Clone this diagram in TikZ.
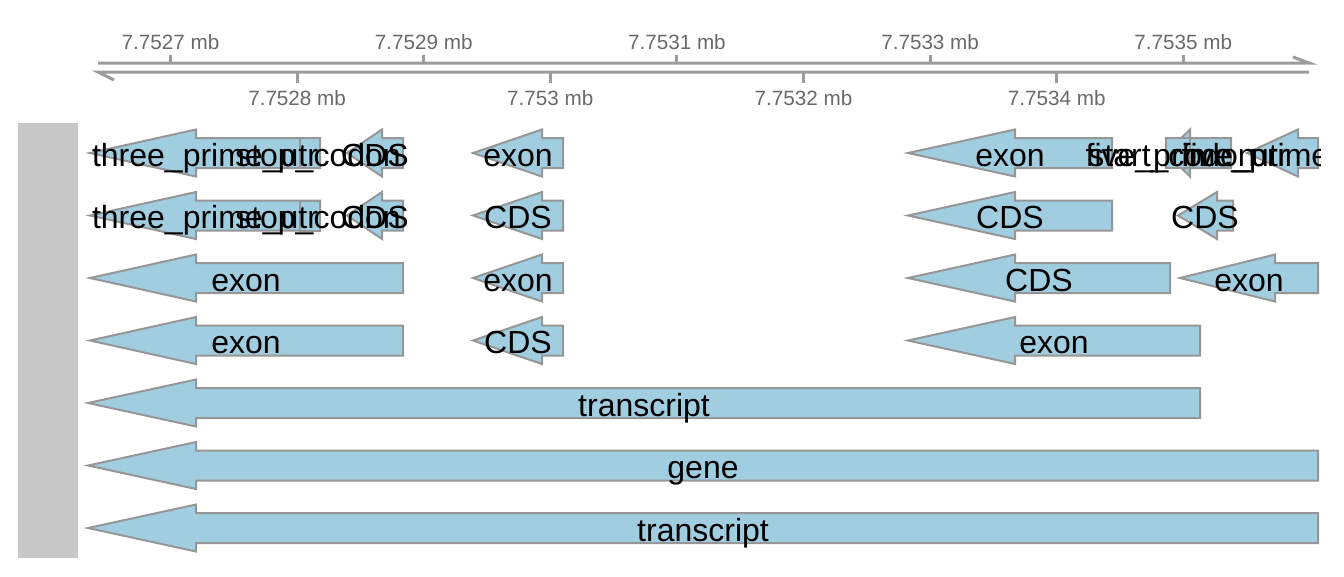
\documentclass[tikz,border=0pt]{standalone}
\usepackage{fontspec}
\setmainfont{Liberation Sans}
\usetikzlibrary{arrows.meta}

\definecolor{featfill}{RGB}{160,206,224}
\definecolor{featline}{RGB}{150,150,150}
\definecolor{axisgray}{RGB}{155,155,155}
\definecolor{ticktext}{RGB}{105,105,105}
\definecolor{panelgray}{RGB}{200,200,200}

% tip / head base / right end / head half height / row y / label x / label
\def\featlist{%
  90/196/320/23.5/153/205/three\_prime\_utr,
  300/300/320/15/153/318/stop\_codon,
  347/382/403/23.5/153/375/CDS,
  473/542/563/23.5/153/518/exon,
  908/1015/1112/23.5/153/1010/exon,
  1166/1190/1231/23.5/153/1187/five\_prime\_utr,
  1166/1166/1190/15/153/1172/start\_codon,
  1247/1298/1318/23.5/153/1283/five\_prime\_utr,
  90/196/320/23.5/215.5/205/three\_prime\_utr,
  300/300/320/15/215.5/318/stop\_codon,
  347/382/403/23.5/215.5/375/CDS,
  473/542/563/23.5/215.5/518/CDS,
  908/1015/1112/23.5/215.5/1010/CDS,
  1178/1217/1233/23.5/215.5/1205/CDS,
  90/196/403/23.5/278/246/exon,
  473/542/563/23.5/278/518/exon,
  908/1015/1170/23.5/278/1039/CDS,
  1180/1275/1318/23.5/278/1249/exon,
  90/196/403/23.5/340.5/246/exon,
  473/542/563/23.5/340.5/518/CDS,
  908/1015/1200/23.5/340.5/1054/exon,
  88/196/1200/23.5/403/644/transcript,
  88/196/1318/23.5/465.5/703/gene,
  88/196/1318/23.5/528/703/transcript}

\begin{document}
\begin{tikzpicture}[
    x=0.75pt, y=-0.75pt,
    feat/.style={fill=featfill, draw=featline, line width=1.5pt},
    lbl/.style={font=\fontsize{24}{28}\selectfont, anchor=base, inner sep=0pt},
    axisline/.style={draw=axisgray, line width=2.25pt},
    ticklbl/.style={font=\fontsize{15.5}{18}\selectfont, text=ticktext,
                    anchor=base, inner sep=0pt},
]
\useasboundingbox (0,0) rectangle (1344,576);

% ---- genome axis ----
\draw[axisline] (98,63) -- (1309,63) -- (1293,57);
\draw[axisline] (1309,72) -- (98,72) -- (114,80);

\foreach \k/\lbl in {0/7.7527, 2/7.7529, 4/7.7531, 6/7.7533, 8/7.7535} {
  \draw[axisline] (170.5+126.6*\k,63) -- (170.5+126.6*\k,55);
  \node[ticklbl] (up\k) at (170.5+126.6*\k,49) {\lbl\ mb};
}
\foreach \k/\lbl in {1/7.7528, 3/7.753, 5/7.7532, 7/7.7534} {
  \draw[axisline] (170.5+126.6*\k,72) -- (170.5+126.6*\k,83);
  \node[ticklbl] (lo\k) at (170.5+126.6*\k,105) {\lbl\ mb};
}

% ---- track title panel ----
\fill[panelgray] (18,123) rectangle (78,558);

% ---- feature arrows ----
\foreach \xa/\hb/\xb/\hh/\yy/\lx/\txt in \featlist {
  \draw[feat] (\xa,\yy) -- (\hb,\yy-\hh) -- (\hb,\yy-15) -- (\xb,\yy-15)
    -- (\xb,\yy+15) -- (\hb,\yy+15) -- (\hb,\yy+\hh) -- cycle;
}

% ---- feature labels (on top, clipped to the track) ----
\begin{scope}
  \clip (80,115) rectangle (1320,565);
  \foreach \xa/\hb/\xb/\hh/\yy/\lx/\txt [count=\i] in \featlist {
    \node[lbl] (lbl\i) at (\lx,\yy+13) {\txt};
  }
\end{scope}

\end{tikzpicture}
\end{document}
